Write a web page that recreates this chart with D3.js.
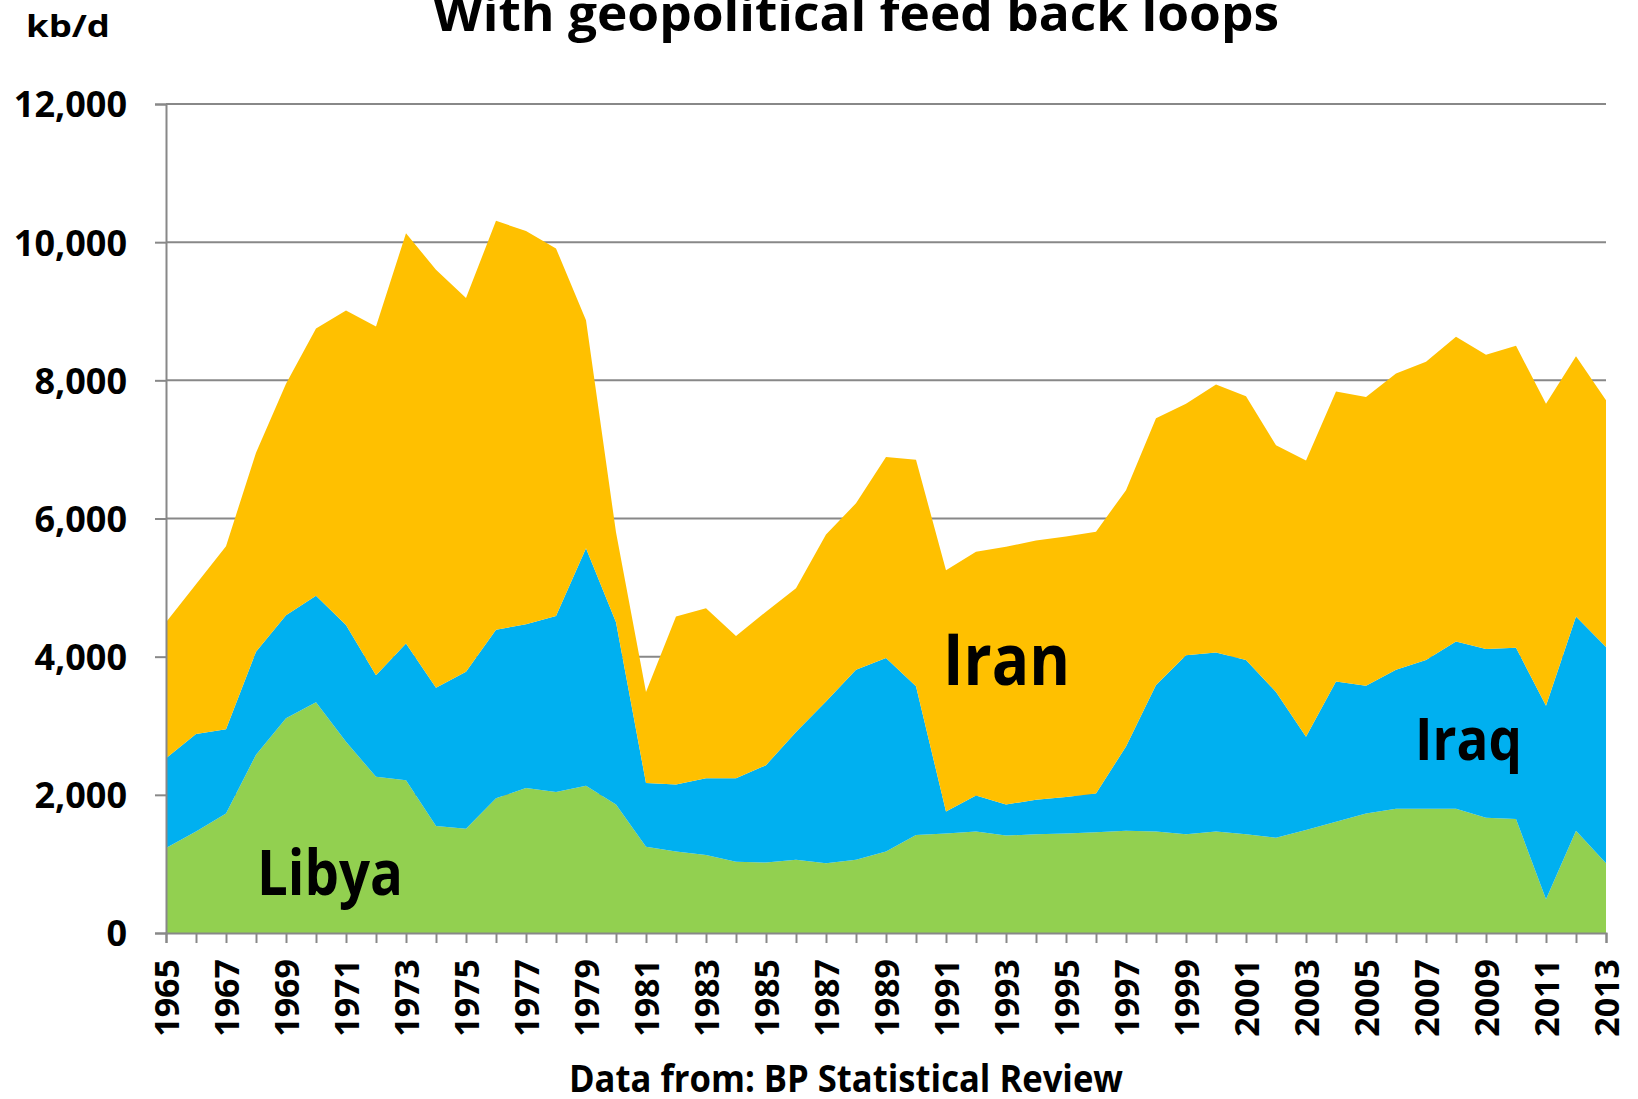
<!DOCTYPE html>
<html>
<head>
<meta charset="utf-8">
<script src="https://cdn.jsdelivr.net/npm/d3@7"></script>
<style>
  body { margin: 0; background: #fff; }
  svg text { font-family: "Open Sans", sans-serif; font-weight: 700; fill: #000; }
</style>
</head>
<body>
<svg id="chart" width="1638" height="1099"></svg>
<script>
// kb/d
var years = [1965, 1966, 1967, 1968, 1969, 1970, 1971, 1972, 1973, 1974,
  1975, 1976, 1977, 1978, 1979, 1980, 1981, 1982, 1983, 1984,
  1985, 1986, 1987, 1988, 1989, 1990, 1991, 1992, 1993, 1994,
  1995, 1996, 1997, 1998, 1999, 2000, 2001, 2002, 2003, 2004,
  2005, 2006, 2007, 2008, 2009, 2010, 2011, 2012, 2013];

var libya = [1230, 1470, 1730, 2580, 3110, 3340, 2770, 2260, 2210, 1550,
  1510, 1950, 2100, 2040, 2130, 1860, 1250, 1180, 1130, 1030,
  1020, 1060, 1010, 1060, 1180, 1420, 1440, 1470, 1410, 1430,
  1440, 1460, 1480, 1470, 1430, 1470, 1430, 1380, 1490, 1610,
  1730, 1800, 1800, 1800, 1670, 1650, 490, 1480, 1010];

var iraq = [1300, 1410, 1220, 1490, 1490, 1540, 1690, 1470, 1980, 2000,
  2270, 2440, 2370, 2550, 3440, 2640, 920, 970, 1110, 1210,
  1410, 1850, 2340, 2750, 2800, 2150, 320, 520, 450, 500,
  530, 560, 1220, 2120, 2590, 2590, 2520, 2110, 1350, 2030,
  1850, 2010, 2150, 2420, 2440, 2480, 2800, 3100, 3130];

var iran = [1970, 2170, 2650, 2880, 3350, 3870, 4550, 5050, 5940, 6050,
  5410, 5920, 5690, 5320, 3300, 1300, 1320, 2430, 2460, 2060,
  2220, 2080, 2420, 2410, 2910, 3280, 3490, 3530, 3730, 3750,
  3770, 3790, 3710, 3860, 3640, 3880, 3820, 3570, 4000, 4200,
  4180, 4290, 4320, 4410, 4260, 4370, 4370, 3770, 3570];

var yTicks = [0, 2000, 4000, 6000, 8000, 10000, 12000];
var xLabelYears = [1965, 1967, 1969, 1971, 1973, 1975, 1977, 1979, 1981, 1983,
  1985, 1987, 1989, 1991, 1993, 1995, 1997, 1999, 2001, 2003,
  2005, 2007, 2009, 2011, 2013];

var seriesKeys = ["Libya", "Iraq", "Iran"];
var colors = { Libya: "#92D050", Iraq: "#00B0F0", Iran: "#FFC000" };

var rows = years.map(function(yr, i) {
  return { year: yr, Libya: libya[i], Iraq: iraq[i], Iran: iran[i] };
});

var svg = d3.select("#chart");
var plotLeft = 166, plotRight = 1606, plotTop = 104, plotBottom = 933;
var gridColor = "#888888";

var x = d3.scaleLinear().domain([1965, 2013]).range([plotLeft, plotRight]);
var y = d3.scaleLinear().domain([0, 12000]).range([plotBottom, plotTop]);

// gridlines sit behind the areas
svg.append("g")
  .selectAll("line")
  .data(yTicks.filter(function(d) { return d > 0; }))
  .join("line")
  .attr("x1", plotLeft).attr("x2", plotRight)
  .attr("y1", function(d) { return y(d); })
  .attr("y2", function(d) { return y(d); })
  .attr("stroke", gridColor)
  .attr("stroke-width", 2);

var stacked = d3.stack().keys(seriesKeys)(rows);

var area = d3.area()
  .x(function(d) { return x(d.data.year); })
  .y0(function(d) { return y(d[0]); })
  .y1(function(d) { return y(d[1]); });

svg.append("g")
  .selectAll("path")
  .data(stacked)
  .join("path")
  .attr("fill", function(d) { return colors[d.key]; })
  .attr("d", area);

// y axis
var yAxis = svg.append("g")
  .attr("transform", "translate(" + plotLeft + ",0)")
  .call(d3.axisLeft(y).tickValues(yTicks).tickSize(11).tickPadding(28)
    .tickFormat(d3.format(",")));
yAxis.select(".domain").attr("stroke", gridColor).attr("stroke-width", 2);
yAxis.selectAll(".tick line").attr("stroke", gridColor).attr("stroke-width", 2);
yAxis.selectAll(".tick text")
  .style("font-size", "36px")
  .attr("dy", "0.36em");

// x axis, a tick every year, a label every other year
var xAxis = svg.append("g")
  .attr("transform", "translate(0," + plotBottom + ")")
  .call(d3.axisBottom(x).tickValues(years).tickSize(10)
    .tickFormat(function(d) { return xLabelYears.indexOf(d) >= 0 ? String(d) : ""; }));
xAxis.select(".domain").attr("stroke", gridColor).attr("stroke-width", 2);
xAxis.selectAll(".tick line").attr("stroke", gridColor).attr("stroke-width", 2);
xAxis.selectAll(".tick text")
  .style("font-size", "34px")
  .attr("text-anchor", "end")
  .attr("transform", "rotate(-90)")
  .attr("x", -26)
  .attr("y", 0)
  .attr("dy", "0.36em");

// titles and notes
svg.append("text")
  .attr("x", 433).attr("y", 31)
  .attr("textLength", 846).attr("lengthAdjust", "spacingAndGlyphs")
  .style("font-size", "48px")
  .text("With geopolitical feed back loops");

svg.append("text")
  .attr("x", 26).attr("y", 37)
  .attr("textLength", 84).attr("lengthAdjust", "spacingAndGlyphs")
  .style("font-size", "30px")
  .text("kb/d");

svg.append("text")
  .attr("x", 569).attr("y", 1092)
  .attr("textLength", 554).attr("lengthAdjust", "spacingAndGlyphs")
  .style("font-size", "37px")
  .text("Data from: BP Statistical Review");

// series labels inside the areas
var seriesLabels = [
  { text: "Libya", x: 257, y: 895, w: 146, size: 62 },
  { text: "Iran", x: 943, y: 685, w: 127, size: 71 },
  { text: "Iraq", x: 1415, y: 760, w: 107, size: 59 }
];
svg.append("g")
  .selectAll("text")
  .data(seriesLabels)
  .join("text")
  .attr("x", function(d) { return d.x; })
  .attr("y", function(d) { return d.y; })
  .attr("textLength", function(d) { return d.w; })
  .attr("lengthAdjust", "spacingAndGlyphs")
  .style("font-size", function(d) { return d.size + "px"; })
  .text(function(d) { return d.text; });
</script>
</body>
</html>
